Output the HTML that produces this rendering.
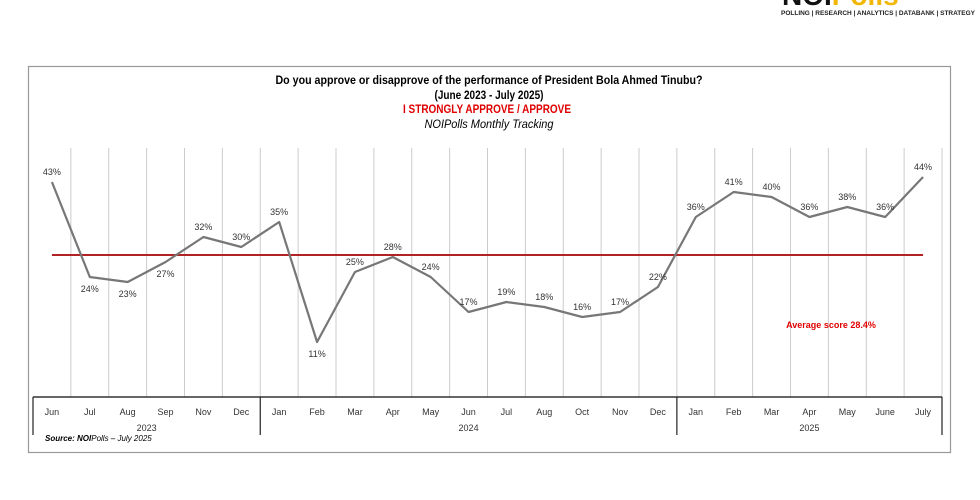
<!DOCTYPE html>
<html><head><meta charset="utf-8"><style>
html,body{margin:0;padding:0;background:#fff;width:980px;height:500px;overflow:hidden;font-family:"Liberation Sans",sans-serif}
</style></head><body>
<svg width="980" height="500" xmlns="http://www.w3.org/2000/svg">
<g>
<text x="782" y="5" font-size="28" font-weight="bold" fill="#111" font-family="Liberation Sans,sans-serif">NOI<tspan fill="#f2b705">Polls</tspan></text>
<text x="781" y="15" font-size="6.5" font-weight="bold" fill="#222" font-family="Liberation Sans,sans-serif" textLength="194">POLLING | RESEARCH | ANALYTICS | DATABANK | STRATEGY</text>
</g>
<rect x="28.5" y="66.5" width="922" height="386" fill="#fff" stroke="#999" stroke-width="1.2"/>
<g font-size="11.5" text-anchor="middle">
<text x="489" y="84" font-weight="bold" fill="#000" textLength="427" lengthAdjust="spacingAndGlyphs">Do you approve or disapprove of the performance of President Bola Ahmed Tinubu?</text>
<text x="489" y="99" font-weight="bold" fill="#000" textLength="109" lengthAdjust="spacingAndGlyphs">(June 2023 - July 2025)</text>
<text x="487" y="113" font-weight="bold" fill="#e00000" textLength="168" lengthAdjust="spacingAndGlyphs">I STRONGLY APPROVE / APPROVE</text>
<text x="489" y="128" font-style="italic" fill="#000" textLength="129" lengthAdjust="spacingAndGlyphs">NOIPolls Monthly Tracking</text>
</g>
<g id="grid"></g>
<g id="axis"></g>
<g id="avg"></g>
<g id="series"></g>
<text x="45" y="441" font-size="8" font-style="italic" fill="#000"><tspan font-weight="bold">Source: NOI</tspan>Polls – July 2025</text>
</svg>
<script>
const months=["Jun","Jul","Aug","Sep","Nov","Dec","Jan","Feb","Mar","Apr","May","Jun","Jul","Aug","Oct","Nov","Dec","Jan","Feb","Mar","Apr","May","June","July"];
const values=[43,24,23,27,32,30,35,11,25,28,24,17,19,18,16,17,22,36,41,40,36,38,36,44];
const labelBelow=[0,1,1,1,0,0,0,1,0,0,0,0,0,0,0,0,0,0,0,0,0,0,0,0];
const years=["2023","2024","2025"];
const yearStart=[0,6,17];
const yearEnd=[6,17,24];
const average=28.4;
const NS="http://www.w3.org/2000/svg";
const x0=33,step=37.875,yBase=397,pxPer=5;
const bx=i=>x0+i*step, cx=i=>x0+(i+0.5)*step, yv=v=>yBase-v*pxPer;
function mk(t,a,p){const e=document.createElementNS(NS,t);for(const k in a)e.setAttribute(k,a[k]);p.appendChild(e);return e;}
const grid=document.getElementById('grid'),axis=document.getElementById('axis'),avg=document.getElementById('avg'),series=document.getElementById('series');
for(let i=1;i<=months.length;i++){
 const g=mk('line',{x1:bx(i),x2:bx(i),y1:148,y2:yBase,stroke:'#ccc','stroke-width':1},grid);
 
 
}
const al=mk('line',{x1:bx(0),x2:bx(months.length),y1:yBase,y2:yBase,stroke:'#333','stroke-width':1.5},axis);


months.forEach((m,i)=>{
 const t=mk('text',{x:cx(i),y:415,'font-size':9,'text-anchor':'middle',fill:'#333'},axis);t.textContent=m;
 
 
});
years.forEach((y,k)=>{
 const t=mk('text',{x:(bx(yearStart[k])+bx(yearEnd[k]))/2,y:431,'font-size':9,'text-anchor':'middle',fill:'#333'},axis);t.textContent=y;
 
 
});
[0,6,17,24].forEach(i=>{
 const s=mk('line',{x1:bx(i),x2:bx(i),y1:yBase,y2:435,stroke:'#222','stroke-width':1.2},axis);
 
 
});
const av=mk('line',{x1:cx(0),x2:cx(months.length-1),y1:yv(average),y2:yv(average),stroke:'#b22222','stroke-width':2},avg);


const at=mk('text',{x:831,y:328,'font-size':9,'font-weight':'bold','text-anchor':'middle',fill:'#e00000'},avg);
at.textContent='Average score '+average+'%';


const pl=mk('polyline',{points:values.map((v,i)=>cx(i)+','+yv(v)).join(' '),fill:'none',stroke:'#777','stroke-width':2.2,'stroke-linejoin':'round'},series);


values.forEach((v,i)=>{
 const y=labelBelow[i]?yv(v)+15:yv(v)-7;
 const t=mk('text',{x:cx(i),y:y,'font-size':9,'text-anchor':'middle',fill:'#333'},series);t.textContent=v+'%';
 
 
});
</script>
</body></html>
